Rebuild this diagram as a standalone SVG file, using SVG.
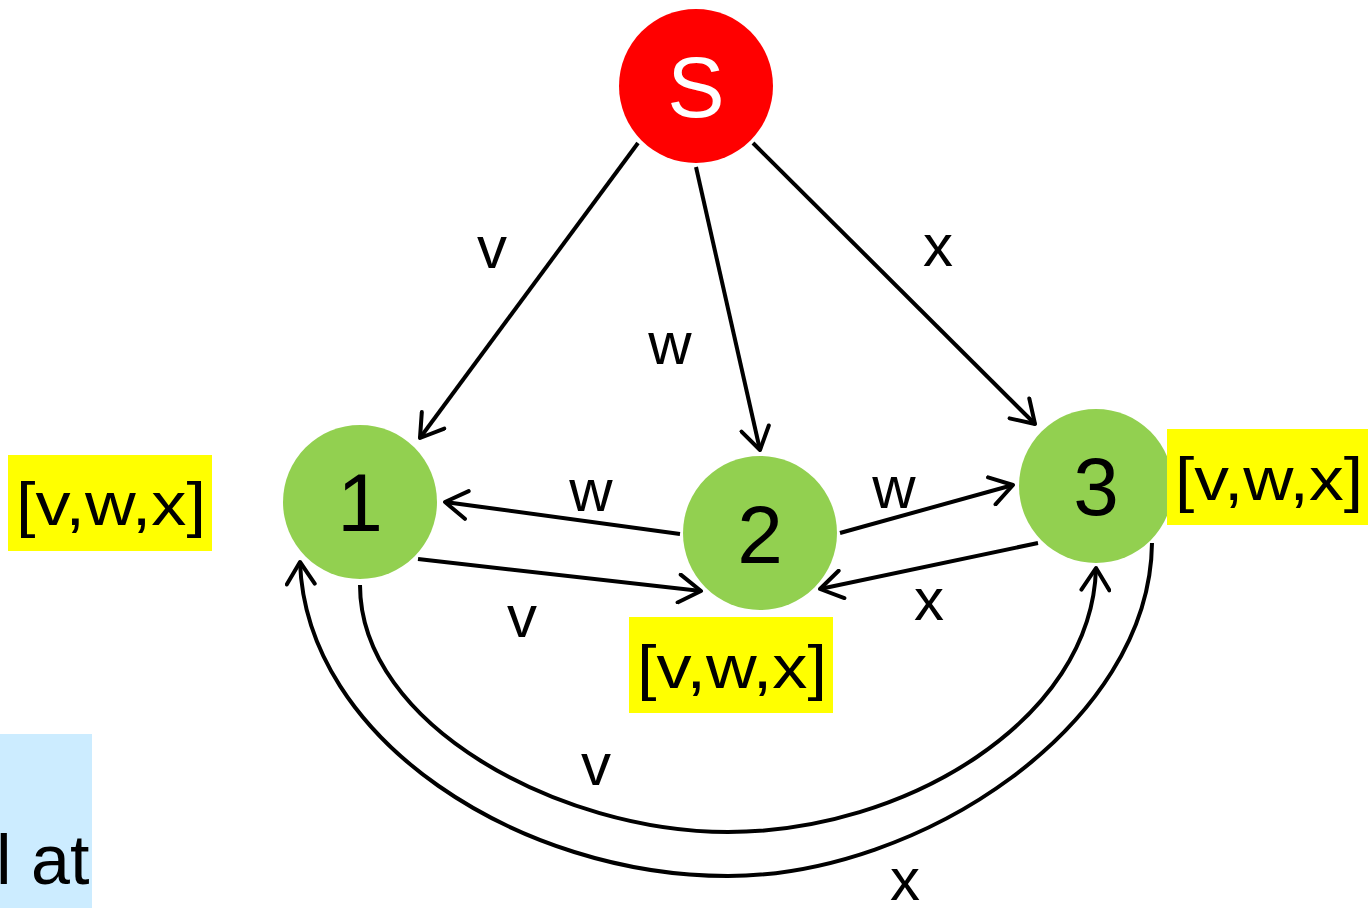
<svg xmlns="http://www.w3.org/2000/svg" width="1368" height="908" viewBox="0 0 1368 908">
<defs>
<marker id="arr" markerWidth="8" markerHeight="8" refX="6.5" refY="4" orient="auto" markerUnits="strokeWidth" viewBox="0 0 8 8">
<path d="M1,0.5 L6.5,4 L1,7.5" fill="none" stroke="#000" stroke-width="1" stroke-linecap="round" stroke-linejoin="round"/>
</marker>
<style>
.edge{fill:none;stroke:#000;stroke-width:4;marker-end:url(#arr)}
.lbl{font-family:"Comic Sans MS","Liberation Sans",sans-serif;font-size:60px;fill:#000;text-anchor:middle}
.num{font-family:"Comic Sans MS","Liberation Sans",sans-serif;font-size:82px;fill:#000;text-anchor:middle}
.green{fill:#92D050}
.ybox{fill:#FFFF00}
.ytxt{font-family:"Comic Sans MS","Liberation Sans",sans-serif;font-size:62px;fill:#000}
</style>
</defs>
<rect x="0" y="734" width="92" height="174" fill="#CCECFF"/>
<text x="-4" y="884" font-family="Comic Sans MS, Liberation Sans, sans-serif" font-size="70" fill="#000">l at</text>
<g id="connectors">
<line class="edge" x1="638" y1="143" x2="420" y2="438"/>
<line class="edge" x1="696" y1="167" x2="760" y2="450"/>
<line class="edge" x1="753" y1="143" x2="1035" y2="424"/>
<line class="edge" x1="680" y1="534" x2="445" y2="502"/>
<line class="edge" x1="418" y1="559" x2="701" y2="591"/>
<line class="edge" x1="840" y1="533" x2="1013" y2="485"/>
<line class="edge" x1="1038" y1="543" x2="820" y2="589"/>
<path class="edge" d="M360,585 C360,725 560,832 728,832 C905,832 1092,720 1096,568"/>
<path class="edge" d="M1152,543 C1150,725 920,876 728,876 C520,876 306,740 300,562"/>
<text class="lbl" x="492" y="268">v</text>
<text class="lbl" x="670" y="364">w</text>
<text class="lbl" x="938" y="266">x</text>
<text class="lbl" x="591" y="511">w</text>
<text class="lbl" x="894" y="508">w</text>
<text class="lbl" x="522" y="637">v</text>
<text class="lbl" x="929" y="620">x</text>
<text class="lbl" x="596" y="785">v</text>
<text class="lbl" x="905" y="900">x</text>
</g>
<g id="node-s">
<circle cx="696" cy="86" r="77" fill="#FF0000"/>
<text x="696" y="117" font-family="Comic Sans MS, Liberation Sans, sans-serif" font-size="86" fill="#FFFFFF" text-anchor="middle">S</text>
</g>
<g id="node-1">
<circle class="green" cx="360" cy="502" r="77"/>
<text class="num" x="360" y="531">1</text>
</g>
<g id="node-2">
<circle class="green" cx="760" cy="533" r="77"/>
<text class="num" x="760" y="563">2</text>
</g>
<g id="node-3">
<circle class="green" cx="1096" cy="486" r="77"/>
<text class="num" x="1096" y="515">3</text>
</g>
<g id="label-1">
<rect class="ybox" x="8" y="455" width="204" height="96"/>
<text class="ytxt" x="16" y="525" textLength="190" lengthAdjust="spacingAndGlyphs">[v,w,x]</text>
</g>
<g id="label-2">
<rect class="ybox" x="629" y="617" width="204" height="96"/>
<text class="ytxt" x="637" y="688" textLength="190" lengthAdjust="spacingAndGlyphs">[v,w,x]</text>
</g>
<g id="label-3">
<rect class="ybox" x="1167" y="429" width="201" height="96"/>
<text class="ytxt" x="1175" y="500" textLength="188" lengthAdjust="spacingAndGlyphs">[v,w,x]</text>
</g>
</svg>
